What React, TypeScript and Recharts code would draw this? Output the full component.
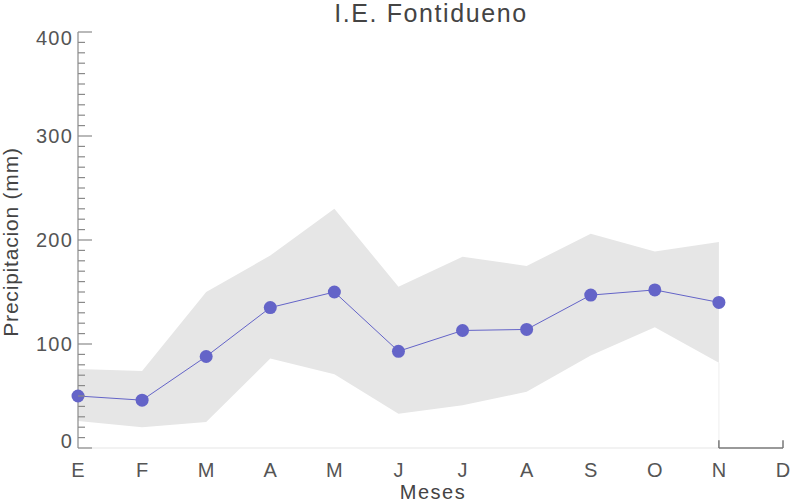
import React from 'react';
import { ComposedChart, Line, Area, XAxis, YAxis, ReferenceLine, Customized } from 'recharts';

const months = ['E', 'F', 'M', 'A', 'M', 'J', 'J', 'A', 'S', 'O', 'N', 'D'];
const meanValues: (number | null)[] = [50, 46, 88, 135, 150, 93, 113, 114, 147, 152, 140, null];
const bandLow: (number | null)[] = [26, 20, 25, 86, 71, 33, 41, 54, 89, 116, 82, null];
const bandHigh: (number | null)[] = [76, 74, 150, 185, 230, 155, 184, 175, 206, 189, 198, null];
const yMajorTicks = [0, 100, 200, 300, 400];
const yMinorStep = 10;

const title = 'I.E. Fontidueno';
const xLabel = 'Meses';
const yLabel = 'Precipitacion (mm)';

const data = months.map((m, i) => ({
  i,
  mean: meanValues[i],
  band: bandLow[i] != null && bandHigh[i] != null ? [bandLow[i], bandHigh[i]] : null,
}));

const yTicks: number[] = [];
for (let v = 0; v <= 400; v += yMinorStep) yTicks.push(v);

const FONT = '"Liberation Sans", Arial, Helvetica, sans-serif';
const lastDataIdx = 10;
const lastIdx = months.length - 1;

const YTick = (props: any) => {
  const { x, y, payload } = props;
  const v = payload.value;
  const major = yMajorTicks.includes(v);
  let dy = 0;
  if (v === 400) dy = 6;
  if (v === 0) dy = -7;
  return (
    <g>
      <line x1={x} x2={x + (major ? 14 : 7)} y1={y} y2={y} stroke="#8a8a8a" strokeWidth={1.2} />
      {major && (
        <text x={x - 5} y={y + dy} dy="0.36em" textAnchor="end" fill="#555" fontSize={20} letterSpacing={1.2} fontFamily={FONT}>
          {v}
        </text>
      )}
    </g>
  );
};

const Labels = () => (
  <g fontFamily={FONT}>
    <text x={431} y={22} textAnchor="middle" fill="#444" fontSize={25} letterSpacing={1.6}>{title}</text>
    <text x={433} y={499} textAnchor="middle" fill="#444" fontSize={20} letterSpacing={1.5}>{xLabel}</text>
    <text x={18} y={242} textAnchor="middle" fill="#444" fontSize={21} letterSpacing={0.8} transform="rotate(-90, 18, 242)">{yLabel}</text>
  </g>
);

export default function App() {
  return (
    <div style={{ position: 'absolute', left: 0, top: 0, width: 792, height: 503, background: '#fff' }}>
      <ComposedChart width={792} height={503} data={data} margin={{ top: 32, right: 9, bottom: 25, left: 0 }}>
        <XAxis
          dataKey="i"
          type="number"
          domain={[0, lastIdx]}
          ticks={months.map((_, i) => i)}
          tickFormatter={(i: number) => months[i]}
          axisLine={false}
          tickLine={false}
          tickSize={0}
          tickMargin={15}
          height={30}
          interval={0}
          tick={{ fill: '#555', fontSize: 20, fontFamily: FONT }}
        />
        <YAxis
          type="number"
          domain={[0, 400]}
          ticks={yTicks}
          interval={0}
          width={78}
          axisLine={{ stroke: '#8a8a8a', strokeWidth: 1.2 }}
          tickLine={false}
          tickSize={0}
          tickMargin={0}
          tick={<YTick />}
        />
        <Area
          dataKey="band"
          type="linear"
          stroke="none"
          fill="#e6e6e6"
          fillOpacity={1}
          isAnimationActive={false}
          activeDot={false}
        />
        <ReferenceLine segment={[{ x: 0, y: 0 }, { x: lastDataIdx, y: 0 }]} stroke="#e6e6e6" strokeWidth={1.2} ifOverflow="visible" />
        <ReferenceLine segment={[{ x: lastDataIdx, y: 0 }, { x: lastDataIdx, y: bandLow[lastDataIdx] as number }]} stroke="#eeeeee" strokeWidth={1} ifOverflow="visible" />
        <ReferenceLine segment={[{ x: lastDataIdx, y: 0 }, { x: lastIdx, y: 0 }]} stroke="#777" strokeWidth={1.5} ifOverflow="visible" />
        <ReferenceLine segment={[{ x: lastDataIdx, y: 0 }, { x: lastDataIdx, y: 7.5 }]} stroke="#777" strokeWidth={1.5} ifOverflow="visible" />
        <ReferenceLine segment={[{ x: lastIdx, y: 0 }, { x: lastIdx, y: 7.5 }]} stroke="#777" strokeWidth={1.5} ifOverflow="visible" />
        <Line
          dataKey="mean"
          type="linear"
          stroke="#6464c8"
          strokeWidth={1}
          dot={{ r: 6.5, fill: '#6464c8', stroke: 'none' }}
          activeDot={false}
          isAnimationActive={false}
        />
        <Customized component={Labels} />
      </ComposedChart>
    </div>
  );
}
